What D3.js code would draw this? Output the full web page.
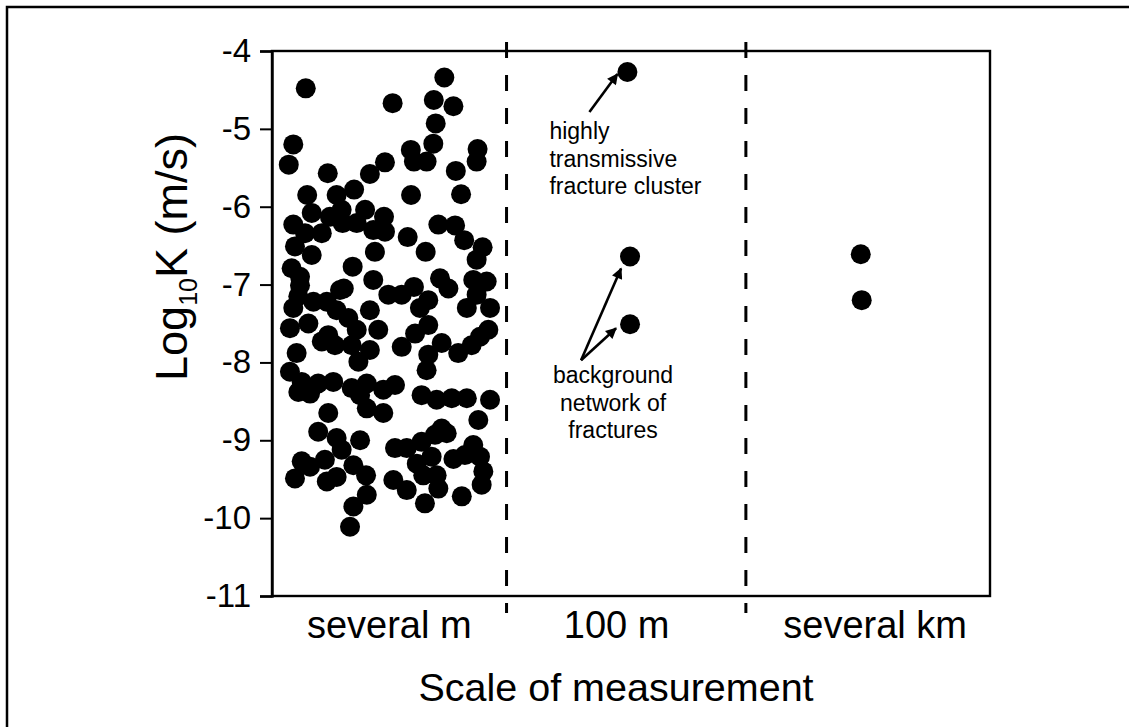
<!DOCTYPE html>
<html>
<head>
<meta charset="utf-8">
<script src="https://cdn.jsdelivr.net/npm/d3@7"></script>
<style>
  html, body { margin: 0; padding: 0; background: #fff; }
  svg { display: block; }
  text { font-family: "Liberation Sans", Arial, Helvetica, sans-serif; fill: #000; }
</style>
</head>
<body>
<svg id="chart" width="1129" height="727"></svg>
<script>
// ---------------- DATA ----------------
const categories = ["several m", "100 m", "several km"];
const categoryCenters = [0.49, 1.44, 2.52];
const categoryBoundaries = [0.98, 1.98];
const yTicks = [-4, -5, -6, -7, -8, -9, -10, -11];

// "several m" scale measurements: position within band (x) and log10 K (y)
const smallScaleX = [
  0.141, 0.720, 0.504, 0.676, 0.758, 0.684, 0.089, 0.070, 0.233, 0.409,
  0.472, 0.580, 0.593, 0.646, 0.674, 0.768, 0.859, 0.855, 0.790, 0.581,
  0.343, 0.270, 0.147, 0.166, 0.242, 0.291, 0.295, 0.389, 0.354, 0.468,
  0.423, 0.472, 0.089, 0.138, 0.208, 0.567, 0.695, 0.765, 0.803,
  0.096, 0.166, 0.082, 0.117, 0.337, 0.430, 0.642, 0.855, 0.423, 0.486,
  0.542, 0.593, 0.702, 0.737, 0.841, 0.897, 0.855, 0.911, 0.814, 0.653,
  0.618, 0.284, 0.229, 0.173, 0.089, 0.270, 0.409, 0.319, 0.152, 0.075,
  0.235, 0.208, 0.263, 0.354, 0.444, 0.333, 0.409, 0.361, 0.103, 0.542,
  0.598, 0.653, 0.709, 0.653, 0.646, 0.778, 0.834, 0.869, 0.904, 0.075,
  0.124, 0.110, 0.193, 0.256, 0.159, 0.333, 0.396, 0.368, 0.465, 0.514,
  0.396, 0.465, 0.235, 0.625, 0.688, 0.751, 0.814, 0.911, 0.862, 0.709,
  0.193, 0.270, 0.291, 0.368, 0.124, 0.159, 0.221, 0.096, 0.229, 0.270,
  0.340, 0.393, 0.396, 0.340, 0.326, 0.514, 0.563, 0.625, 0.681, 0.730,
  0.667, 0.605, 0.632, 0.688, 0.507, 0.563, 0.695, 0.639, 0.758, 0.806,
  0.841, 0.869, 0.883, 0.876, 0.793, 0.117, 0.110, 0.300, 0.880
];
const smallScaleY = [
  -4.48, -4.34, -4.67, -4.63, -4.71, -4.93, -5.20, -5.46, -5.57, -5.58,
  -5.43, -5.27, -5.42, -5.42, -5.19, -5.54, -5.26, -5.42, -5.84, -5.85,
  -5.78, -5.85, -5.85, -6.08, -6.13, -6.04, -6.21, -6.04, -6.21, -6.13,
  -6.30, -6.32, -6.23, -6.34, -6.34, -6.39, -6.23, -6.24, -6.43,
  -6.51, -6.62, -6.79, -7.01, -6.77, -6.58, -6.58, -6.68, -6.94, -7.13,
  -7.13, -7.03, -6.92, -7.05, -6.94, -6.96, -7.13, -7.30, -7.30, -7.20,
  -7.30, -7.07, -7.22, -7.22, -7.30, -7.33, -7.33, -7.43, -7.50, -7.56,
  -7.65, -7.73, -7.78, -7.58, -7.58, -7.78, -7.84, -7.99, -7.88, -7.80,
  -7.63, -7.52, -7.75, -7.90, -8.10, -7.88, -7.78, -7.67, -7.58, -8.12,
  -8.25, -8.38, -8.27, -8.25, -8.40, -8.33, -8.27, -8.42, -8.35, -8.29,
  -8.59, -8.65, -8.65, -8.42, -8.48, -8.46, -8.46, -8.48, -8.74, -8.85,
  -8.89, -8.97, -9.12, -9.00, -9.27, -9.34, -9.25, -9.49, -9.53, -9.47,
  -9.32, -9.45, -9.70, -9.85, -10.11, -9.10, -9.10, -9.02, -8.93, -8.91,
  -9.21, -9.30, -9.45, -9.45, -9.51, -9.64, -9.62, -9.81, -9.24, -9.19,
  -9.06, -9.21, -9.40, -9.57, -9.72, -6.90, -7.15, -7.05, -6.52
];

// "100 m" scale measurements
const mediumScaleX = [1.485, 1.496, 1.496];
const mediumScaleY = [-4.27, -6.64, -7.51];

// "several km" scale measurements
const largeScaleX = [2.460, 2.464];
const largeScaleY = [-6.61, -7.20];

// annotations
const clusterLabel = ["highly", "transmissive", "fracture cluster"];
const backgroundLabel = ["background", "network of", "fractures"];

// ---------------- LAYOUT ----------------
const svg = d3.select("#chart");
const plot = { left: 272, right: 990, top: 51, bottom: 596 };

const x = d3.scaleLinear().domain([0, 3]).range([plot.left, plot.right]);
const y = d3.scaleLinear().domain([-11, -4]).range([plot.bottom, plot.top]);

// outer frame
svg.append("rect")
  .attr("x", 7).attr("y", 7)
  .attr("width", 1140).attr("height", 740)
  .attr("fill", "none").attr("stroke", "#000").attr("stroke-width", 2.5);

// dashed separators
svg.append("g").selectAll("line").data(categoryBoundaries).join("line")
  .attr("x1", d => x(d)).attr("x2", d => x(d))
  .attr("y1", plot.top - 9).attr("y2", plot.bottom + 17)
  .attr("stroke", "#000").attr("stroke-width", 3)
  .attr("stroke-dasharray", "16,17");

// plot box
svg.append("rect")
  .attr("x", plot.left).attr("y", plot.top)
  .attr("width", plot.right - plot.left).attr("height", plot.bottom - plot.top)
  .attr("fill", "none").attr("stroke", "#000").attr("stroke-width", 2.4);

// y axis
const yAxis = d3.axisLeft(y).tickValues(yTicks).tickSize(12).tickPadding(9)
  .tickFormat(d => String(d));
const gy = svg.append("g").attr("transform", `translate(${plot.left},0)`).call(yAxis);
gy.select(".domain").attr("stroke", "#000").attr("stroke-width", 2.4);
gy.selectAll(".tick line").attr("stroke", "#000").attr("stroke-width", 2);
gy.selectAll(".tick text")
  .style("font-size", "33px")
  .style("font-family", "'Liberation Sans', Arial, sans-serif")
  .attr("fill", "#000");

// category labels
svg.append("g").selectAll("text").data(categories).join("text")
  .attr("x", (d, i) => x(categoryCenters[i]))
  .attr("y", plot.bottom + 42)
  .attr("text-anchor", "middle")
  .style("font-size", "38px")
  .text(d => d);

// axis titles
svg.append("text")
  .attr("x", 616).attr("y", 701)
  .attr("text-anchor", "middle")
  .style("font-size", "39.5px")
  .text("Scale of measurement");

const yt = svg.append("text")
  .attr("transform", "translate(187,257) rotate(-90)")
  .attr("text-anchor", "middle")
  .style("font-size", "45px");
yt.append("tspan").text("Log");
yt.append("tspan").attr("dy", 10).style("font-size", "25px").text("10");
yt.append("tspan").attr("dy", -10).text("K (m/s)");

// points
const pts = [];
smallScaleX.forEach((v, i) => pts.push({ x: v, y: smallScaleY[i] }));
mediumScaleX.forEach((v, i) => pts.push({ x: v, y: mediumScaleY[i] }));
largeScaleX.forEach((v, i) => pts.push({ x: v, y: largeScaleY[i] }));

svg.append("g").selectAll("circle").data(pts).join("circle")
  .attr("cx", d => x(d.x)).attr("cy", d => y(d.y))
  .attr("r", 10).attr("fill", "#000");

// arrows
const defs = svg.append("defs");
defs.append("marker")
  .attr("id", "ah").attr("viewBox", "0 0 10 10")
  .attr("refX", 9).attr("refY", 5)
  .attr("markerUnits", "userSpaceOnUse")
  .attr("markerWidth", 14).attr("markerHeight", 11)
  .attr("orient", "auto")
  .append("path").attr("d", "M0,0 L10,5 L0,10 z").attr("fill", "#000");

const p1 = [x(mediumScaleX[0]), y(mediumScaleY[0])];
const p2 = [x(mediumScaleX[1]), y(mediumScaleY[1])];
const p3 = [x(mediumScaleX[2]), y(mediumScaleY[2])];
const bgStart = [p3[0] - 49, p3[1] + 36];
const arrows = [
  { from: [p1[0] - 38, p1[1] + 40], to: [p1[0] - 10, p1[1] + 2] },
  { from: bgStart, to: [p2[0] - 9, p2[1] + 12] },
  { from: bgStart, to: [p3[0] - 14, p3[1] + 4] }
];
svg.append("g").selectAll("line").data(arrows).join("line")
  .attr("x1", d => d.from[0]).attr("y1", d => d.from[1])
  .attr("x2", d => d.to[0]).attr("y2", d => d.to[1])
  .attr("stroke", "#000").attr("stroke-width", 2.6)
  .attr("marker-end", "url(#ah)");

// annotation text
svg.append("g").selectAll("text").data(clusterLabel).join("text")
  .attr("x", p1[0] - 78)
  .attr("y", (d, i) => p1[1] + 67 + i * 27.5)
  .style("font-size", "23px")
  .text(d => d);

svg.append("g").selectAll("text").data(backgroundLabel).join("text")
  .attr("x", p3[0] - 17)
  .attr("y", (d, i) => p3[1] + 59 + i * 27.5)
  .attr("text-anchor", "middle")
  .style("font-size", "23px")
  .text(d => d);
</script>
</body>
</html>
